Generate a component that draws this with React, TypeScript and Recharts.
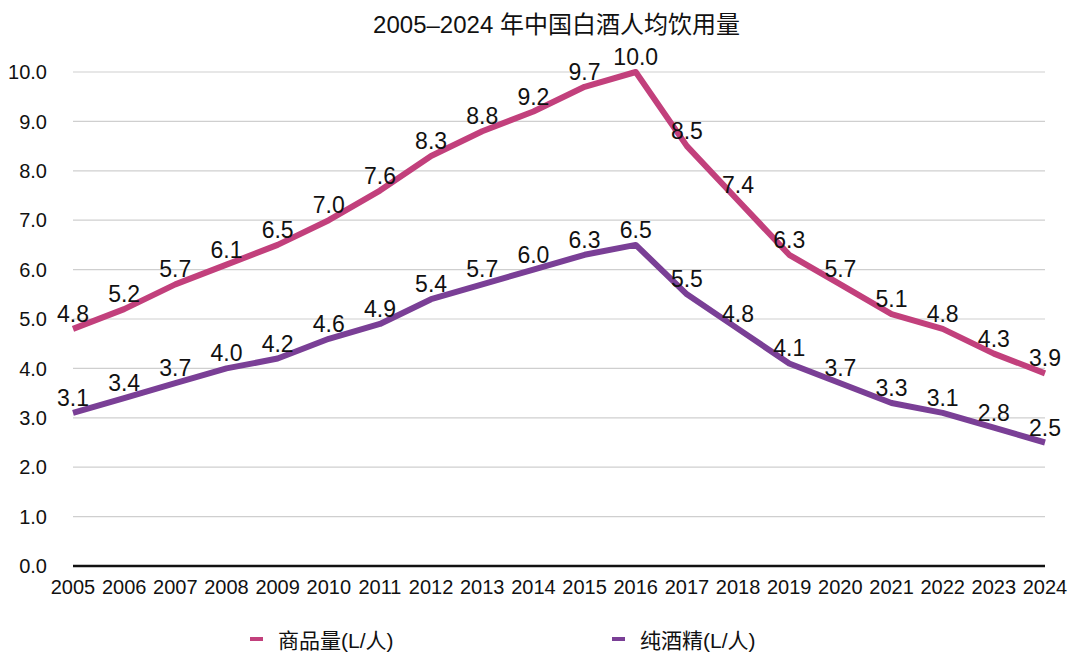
import React from "react";
import { LineChart, Line, XAxis, YAxis, CartesianGrid, LabelList, Legend } from "recharts";

const years = ["2005","2006","2007","2008","2009","2010","2011","2012","2013","2014","2015","2016","2017","2018","2019","2020","2021","2022","2023","2024"];
const commodity = [4.8,5.2,5.7,6.1,6.5,7.0,7.6,8.3,8.8,9.2,9.7,10.0,8.5,7.4,6.3,5.7,5.1,4.8,4.3,3.9];
const pureAlcohol = [3.1,3.4,3.7,4.0,4.2,4.6,4.9,5.4,5.7,6.0,6.3,6.5,5.5,4.8,4.1,3.7,3.3,3.1,2.8,2.5];
const yTicks = [0,1,2,3,4,5,6,7,8,9,10];
const seriesNames = ["商品量(L/人)", "纯酒精(L/人)"];
const colors = ["#c2407c", "#7a3f96"];
const title = "2005–2024 年中国白酒人均饮用量";

const data = years.map((y, i) => ({ year: y, a: commodity[i], b: pureAlcohol[i] }));

const FONT = "'Liberation Sans', Arial, 'Noto Sans CJK SC', sans-serif";

const LegendContent = () => (
  <div style={{ position: "relative", height: 30, fontFamily: FONT, fontSize: 21, color: "#111" }}>
    {[0, 1].map((i) => (
      <div key={i} style={{ position: "absolute", left: i === 0 ? 250 : 612, top: 0, height: 30, display: "flex", alignItems: "center" }}>
        <div style={{ width: 13, height: 4, background: colors[i], marginRight: 15 }} />
        <span>{seriesNames[i]}</span>
      </div>
    ))}
  </div>
);

const fmt = (v: any) => Number(v).toFixed(1);

export default function App() {
  return (
    <div style={{ position: "absolute", left: 0, top: 0, width: 1080, height: 662, background: "#fff", fontFamily: FONT }}>
      <div style={{ position: "absolute", left: 0, top: 10, width: 1113, textAlign: "center", fontSize: 24, color: "#111", lineHeight: "30px" }}>{title}</div>
      <LineChart width={1080} height={662} data={data} margin={{ top: 72, right: 35, bottom: 36, left: 0 }}>
        <CartesianGrid vertical={false} stroke="#cfcfcf" strokeWidth={1.2} />
        <XAxis
          dataKey="year"
          tickLine={false}
          axisLine={{ stroke: "#111", strokeWidth: 2.5 }}
          tick={{ fill: "#111", fontSize: 20, fontFamily: FONT }}
          tickMargin={8}
          height={30}
          interval={0}
        />
        <YAxis
          domain={[0, 10]}
          ticks={yTicks}
          tickFormatter={fmt}
          tickLine={false}
          axisLine={false}
          tick={{ fill: "#111", fontSize: 20, fontFamily: FONT }}
          width={73}
          tickMargin={20}
        />
        <Legend verticalAlign="bottom" content={<LegendContent />} wrapperStyle={{ left: 0, bottom: 8, width: 1080 }} />
        <Line dataKey="a" name={seriesNames[0]} stroke={colors[0]} strokeWidth={6} dot={false} isAnimationActive={false} strokeLinejoin="round">
          <LabelList dataKey="a" position="top" offset={7} formatter={fmt} style={{ fill: "#111", fontSize: 23, fontFamily: FONT }} />
        </Line>
        <Line dataKey="b" name={seriesNames[1]} stroke={colors[1]} strokeWidth={6} dot={false} isAnimationActive={false} strokeLinejoin="round">
          <LabelList dataKey="b" position="top" offset={7} formatter={fmt} style={{ fill: "#111", fontSize: 23, fontFamily: FONT }} />
        </Line>
      </LineChart>
    </div>
  );
}
